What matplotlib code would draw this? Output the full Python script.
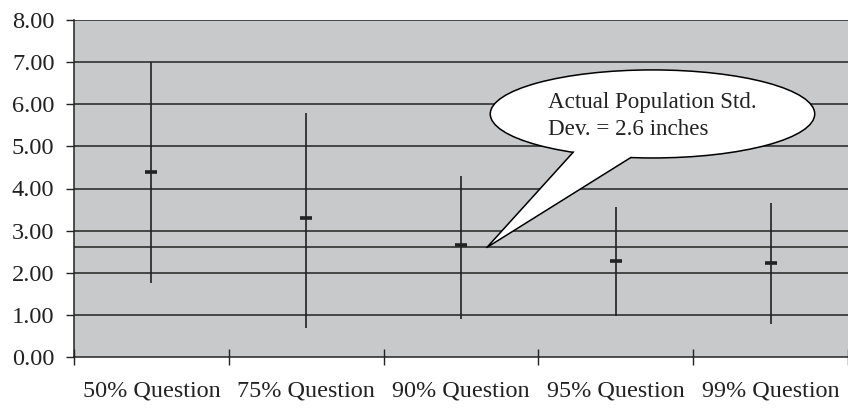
import matplotlib
matplotlib.use("Agg")
import matplotlib.pyplot as plt
import numpy as np
from matplotlib.patches import Ellipse, Polygon

# values
questions = ["50% Question", "75% Question", "90% Question", "95% Question", "99% Question"]
highs = [7.00, 5.80, 4.30, 3.55, 3.65]
lows = [1.75, 0.70, 0.90, 0.97, 0.78]
means = [4.40, 3.30, 2.65, 2.28, 2.24]
pop_std = 2.62
y_ticks = [0, 1, 2, 3, 4, 5, 6, 7, 8]

plt.rcParams["font.family"] = ["Liberation Serif", "DejaVu Serif"]
ink = "#222222"

fig = plt.figure(figsize=(8.48, 4.08), dpi=100)
ax = fig.add_axes([74 / 848, 51 / 408, 1 - 74 / 848, 337 / 408])
ax.set_facecolor("#c8c9cb")

x = np.arange(len(questions))

# gridlines + population line
for yv in y_ticks[1:]:
    ax.axhline(yv, color=ink, lw=1.1, zorder=1)
ax.axhline(pop_std, color=ink, lw=1.1, zorder=1)

# high-low bars with mean marks
ax.vlines(x, lows, highs, color=ink, lw=1.2, zorder=2)
ax.plot(x, means, ls="none", marker="_", ms=9, mew=2.6, color=ink, zorder=3)

ax.set_ylim(0, 8)
ax.set_xlim(-0.5, len(questions) - 0.54)
ax.set_yticks(y_ticks)
ax.set_yticklabels([f"{v:.2f}" for v in y_ticks])
ax.set_xticks(x)
ax.set_xticklabels(questions)
ax.set_xticks(np.arange(len(questions) + 1) - 0.5, minor=True)

ax.tick_params(axis="y", length=6, width=1, color=ink, pad=8, labelsize=17.6, labelcolor=ink)
ax.tick_params(axis="x", which="major", length=0, pad=17, labelsize=17.4, labelcolor=ink)
ax.tick_params(axis="x", which="minor", direction="inout", length=12, width=1, color=ink)

for s in ["top", "right"]:
    ax.spines[s].set_visible(False)
for s in ["left", "bottom"]:
    ax.spines[s].set_color(ink)
    ax.spines[s].set_linewidth(1.1)

# callout bubble
cx, cy, w, h = 3.237, 5.77, 2.096, 2.09
tip = (2.167, pop_std - 0.02)
t1, t2 = np.deg2rad(119.3), np.deg2rad(97.7)
b1 = (cx + w / 2 * np.cos(t1), cy - h / 2 * np.sin(t1))
b2 = (cx + w / 2 * np.cos(t2), cy - h / 2 * np.sin(t2))
ax.add_patch(Ellipse((cx, cy), w, h, facecolor="white", edgecolor="black", lw=1.1, zorder=5))
inner = (cx - 0.05 * w, cy - 0.2)
ax.add_patch(Polygon([b1, tip, b2, inner], closed=True, facecolor="white",
                     edgecolor="none", zorder=6))
ax.plot([b1[0], tip[0], b2[0]], [b1[1], tip[1], b2[1]], color="black", lw=1.1, zorder=7)

ax.text(2.56, 5.91, "Actual Population Std.", fontsize=16.6, color=ink, zorder=8)
ax.text(2.56, 5.27, "Dev. = 2.6 inches", fontsize=16.6, color=ink, zorder=8)

fig.savefig("out.png", dpi=100)
